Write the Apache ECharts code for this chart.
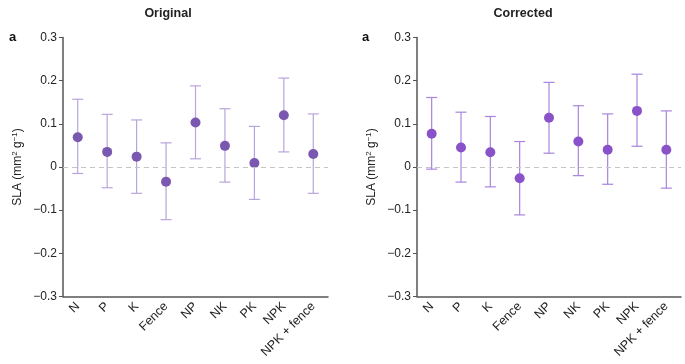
<!DOCTYPE html>
<html>
<head>
<meta charset="utf-8">
<script src="https://cdn.jsdelivr.net/npm/echarts@6/dist/echarts.min.js"></script>
<style>
  html, body { margin: 0; padding: 0; background: #fff; }
  #main { width: 685px; height: 364px; }
</style>
</head>
<body>
<div id="main"></div>
<script>
var categories = ['N', 'P', 'K', 'Fence', 'NP', 'NK', 'PK', 'NPK', 'NPK + fence'];
var yTicks = [-0.3, -0.2, -0.1, 0, 0.1, 0.2, 0.3];

// Original
var origMean = [0.069, 0.035, 0.024, -0.034, 0.103, 0.049, 0.009, 0.120, 0.030];
var origLow = [-0.015, -0.048, -0.061, -0.122, 0.019, -0.035, -0.075, 0.035, -0.061];
var origHigh = [0.157, 0.122, 0.109, 0.056, 0.188, 0.135, 0.094, 0.206, 0.123];

// Corrected
var corrMean = [0.077, 0.045, 0.034, -0.026, 0.114, 0.059, 0.040, 0.130, 0.040];
var corrLow = [-0.005, -0.035, -0.046, -0.111, 0.032, -0.020, -0.040, 0.048, -0.049];
var corrHigh = [0.161, 0.127, 0.117, 0.059, 0.196, 0.142, 0.123, 0.215, 0.130];

var font = 'Liberation Sans, Arial, sans-serif';
var axisColor = '#555';

function tickFmt(v) {
  if (Math.abs(v) < 1e-9) return '0';
  var s = Math.abs(v).toFixed(1);
  return v < 0 ? '\u2212' + s : s;
}

function errData(low, high) {
  return categories.map(function (c, i) { return [i, low[i], high[i]]; });
}

function errSeries(idx, low, high, color) {
  return {
    type: 'custom',
    xAxisIndex: idx,
    yAxisIndex: idx,
    data: errData(low, high),
    z: 2,
    renderItem: function (params, api) {
      var lo = api.coord([api.value(0), api.value(1)]);
      var hi = api.coord([api.value(0), api.value(2)]);
      var w = 5.5;
      var st = { stroke: color, lineWidth: 1.2 };
      return {
        type: 'group',
        children: [
          { type: 'line', shape: { x1: lo[0], y1: lo[1], x2: hi[0], y2: hi[1] }, style: st },
          { type: 'line', shape: { x1: lo[0] - w, y1: lo[1], x2: lo[0] + w, y2: lo[1] }, style: st },
          { type: 'line', shape: { x1: hi[0] - w, y1: hi[1], x2: hi[0] + w, y2: hi[1] }, style: st }
        ]
      };
    }
  };
}

function pointSeries(idx, mean, color) {
  return {
    type: 'scatter',
    xAxisIndex: idx,
    yAxisIndex: idx,
    data: mean.map(function (v, i) { return [i, v]; }),
    symbolSize: 10,
    z: 3,
    itemStyle: { color: color, opacity: 1 },
    markLine: {
      silent: true,
      symbol: 'none',
      label: { show: false },
      lineStyle: { color: '#c4c4c4', type: [5, 4], width: 1 },
      data: [{ yAxis: 0 }]
    }
  };
}

function xAxis(idx) {
  return {
    type: 'category',
    gridIndex: idx,
    data: categories,
    boundaryGap: true,
    axisLine: { onZero: false, lineStyle: { color: axisColor, width: 1.5 } },
    axisTick: { alignWithLabel: true, length: 4, lineStyle: { color: axisColor } },
    axisLabel: { rotate: 45, color: '#222', fontSize: 12.5, fontFamily: font, margin: 8, interval: 0 }
  };
}

function yAxis(idx) {
  return {
    type: 'value',
    gridIndex: idx,
    min: -0.3,
    max: 0.3,
    interval: 0.1,
    name: 'SLA (mm{sup|2} g{sup|\u22121})',
    nameLocation: 'middle',
    nameGap: 38,
    nameTextStyle: {
      color: '#222', fontSize: 12, fontFamily: font,
      rich: { sup: { fontSize: 8, verticalAlign: 'top', padding: [0, 0, 6, 0], color: '#222', fontFamily: font } }
    },
    splitLine: { show: false },
    axisLine: { show: true, lineStyle: { color: axisColor, width: 1.5 } },
    axisTick: { show: true, length: 4, lineStyle: { color: axisColor } },
    axisLabel: { color: '#222', fontSize: 12, fontFamily: font, margin: 6, formatter: tickFmt }
  };
}

var chart = echarts.init(document.getElementById('main'), null, { renderer: 'canvas' });
chart.setOption({
  animation: false,
  backgroundColor: '#fff',
  title: [
    { text: 'Original', left: 163, top: 2, textAlign: 'center',
      textStyle: { fontSize: 12.5, fontWeight: 'bold', color: '#222', fontFamily: font } },
    { text: 'Corrected', left: 518, top: 2, textAlign: 'center',
      textStyle: { fontSize: 12.5, fontWeight: 'bold', color: '#222', fontFamily: font } },
    { text: 'a', left: 4, top: 26,
      textStyle: { fontSize: 13, fontWeight: 'bold', color: '#111', fontFamily: font } },
    { text: 'a', left: 357, top: 26,
      textStyle: { fontSize: 13, fontWeight: 'bold', color: '#111', fontFamily: font } }
  ],
  grid: [
    { left: 63, top: 37.5, width: 265, height: 259 },
    { left: 417, top: 37.5, width: 264, height: 259 }
  ],
  xAxis: [xAxis(0), xAxis(1)],
  yAxis: [yAxis(0), yAxis(1)],
  series: [
    errSeries(0, origLow, origHigh, '#b9a4dc'),
    pointSeries(0, origMean, '#7b58b0'),
    errSeries(1, corrLow, corrHigh, '#a884dd'),
    pointSeries(1, corrMean, '#8a52c8')
  ]
});
</script>
</body>
</html>
